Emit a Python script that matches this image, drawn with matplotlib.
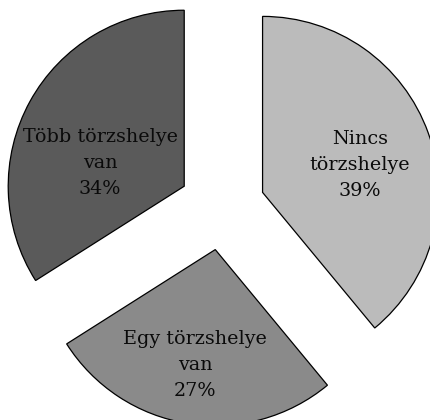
import numpy as np
import matplotlib
matplotlib.use('Agg')
import matplotlib.pyplot as plt

# data
labels = ['Nincs\ntörzshelye', 'Egy törzshelye\nvan', 'Több törzshelye\nvan']
shares = [39, 27, 34]
colors = ['#bbbbbb', '#8a8a8a', '#5a5a5a']

plt.rcParams['font.family'] = ['DejaVu Serif']

fig = plt.figure(figsize=(4.3, 4.2), dpi=100)
ax = fig.add_axes([0, 0, 1, 1])

wedges, texts, pcts = ax.pie(shares, colors=colors, startangle=90, counterclock=False,
                             explode=[0.245] * 3, radius=1,
                             autopct='%d%%', pctdistance=0.55,
                             wedgeprops={'edgecolor': 'black', 'linewidth': 0.9})

# put label and percent together, nudged to where the reference has them
label_pos = [(0.784, 0.239), (-0.151, -0.898), (-0.693, 0.25)]
for t, p, lab, pos in zip(texts, pcts, labels, label_pos):
    t.set_visible(False)
    p.set_text(lab + '\n' + p.get_text())
    p.set_position(pos)
    p.set_fontsize(13.8)
    p.set_ha('center')
    p.set_va('center')
    p.set_linespacing(1.57)
    p.set_color('#0a0a0a')

# px: centre at (222, 207), radius 176 px
ax.set_xlim(-222 / 176, (430 - 222) / 176)
ax.set_ylim(-(420 - 207) / 176, 207 / 176)
ax.set_aspect('auto')
ax.axis('off')

fig.savefig('out.png', dpi=100)
